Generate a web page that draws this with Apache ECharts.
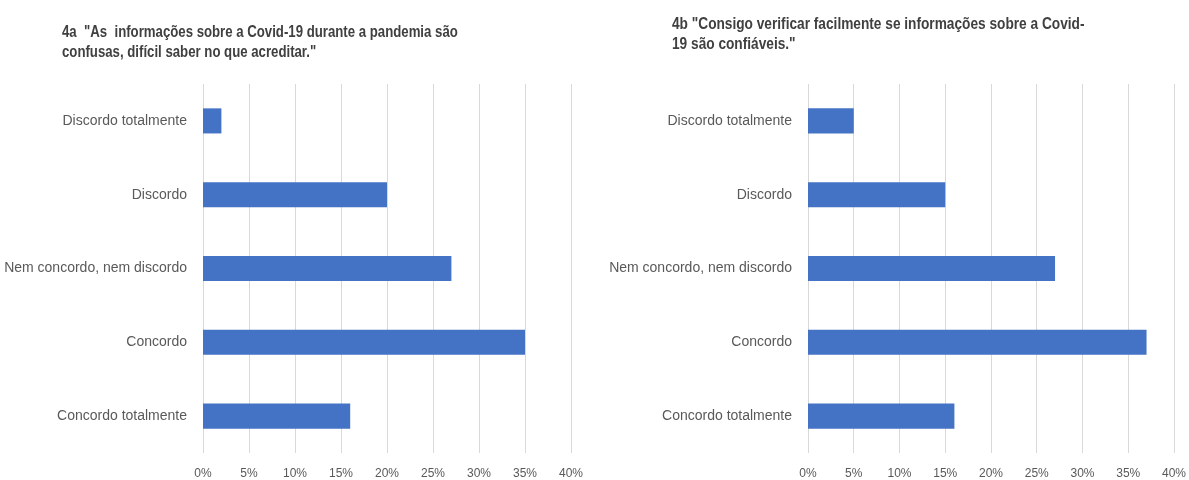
<!DOCTYPE html>
<html>
<head>
<meta charset="utf-8">
<script src="https://cdn.jsdelivr.net/npm/echarts@6/dist/echarts.min.js"></script>
<style>
  html, body { margin: 0; padding: 0; background: #ffffff; }
  #chart { width: 1189px; height: 480px; }
</style>
</head>
<body>
<div id="chart"></div>
<script>
// Response categories (top to bottom)
const categories = ['Discordo totalmente', 'Discordo', 'Nem concordo, nem discordo', 'Concordo', 'Concordo totalmente'];

// Percentages of respondents for each statement
const values4a = [2, 20, 27, 35, 16];
const values4b = [5, 15, 27, 37, 16];

// Statement titles
const title4a = '4a  "As  informações sobre a Covid-19 durante a pandemia são\nconfusas, difícil saber no que acreditar."';
const title4b = '4b "Consigo verificar facilmente se informações sobre a Covid-\n19 são confiáveis."';

const labelFont = '"Liberation Sans", Arial, sans-serif';
const textGray = '#595959';
const barBlue = '#4472C4';

function xAxisFor(gridIndex) {
  return {
    gridIndex: gridIndex,
    type: 'value',
    min: 0,
    max: 40,
    interval: 5,
    axisLine: { show: false },
    axisTick: { show: false },
    splitLine: { show: true, lineStyle: { color: '#d9d9d9', width: 1 } },
    axisLabel: {
      formatter: '{value}%',
      color: textGray,
      fontFamily: labelFont,
      fontSize: 12,
      margin: 15
    }
  };
}

function yAxisFor(gridIndex) {
  return {
    gridIndex: gridIndex,
    type: 'category',
    data: categories,
    inverse: true,
    axisLine: { show: false },
    axisTick: { show: false },
    axisLabel: {
      color: textGray,
      fontFamily: labelFont,
      fontSize: 14,
      margin: 16
    }
  };
}

function barSeries(index, data) {
  return {
    type: 'bar',
    xAxisIndex: index,
    yAxisIndex: index,
    data: data,
    barWidth: '34%',
    itemStyle: { color: barBlue },
    silent: true
  };
}

// Condensed bold heading drawn as a horizontally compressed text element
function heading(text, x, y, squeeze) {
  return {
    type: 'text',
    x: x,
    y: y,
    scaleX: squeeze,
    silent: true,
    style: {
      text: text,
      font: 'bold 16px "Liberation Sans", Arial, sans-serif',
      fill: '#404040',
      lineHeight: 20,
      verticalAlign: 'top'
    }
  };
}

const chart = echarts.init(document.getElementById('chart'), null, { renderer: 'canvas' });
chart.setOption({
  animation: false,
  backgroundColor: '#ffffff',
  graphic: [
    heading(title4a, 62, 23, 0.825),
    heading(title4b, 672, 15, 0.855)
  ],
  grid: [
    { left: 203, right: 618, top: 84, bottom: 27 },
    { left: 808, right: 13, top: 84, bottom: 27 }
  ],
  xAxis: [xAxisFor(0), xAxisFor(1)],
  yAxis: [yAxisFor(0), yAxisFor(1)],
  series: [barSeries(0, values4a), barSeries(1, values4b)]
});
</script>
</body>
</html>
